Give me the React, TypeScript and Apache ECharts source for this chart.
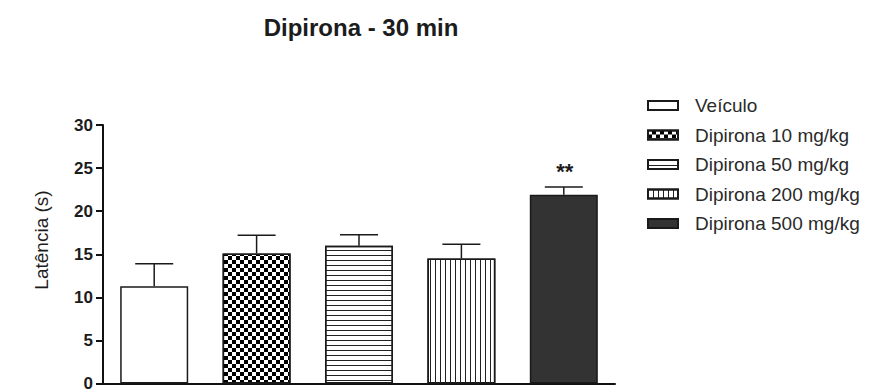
import React, { useEffect, useRef } from "react";
import * as echarts from "echarts";

const groups = ["Veículo", "Dipirona 10 mg/kg", "Dipirona 50 mg/kg", "Dipirona 200 mg/kg", "Dipirona 500 mg/kg"];
const means = [11.3, 15.1, 16.0, 14.5, 21.9];
const sems = [2.6, 2.1, 1.25, 1.65, 0.9];
const significance = ["", "", "", "", "**"];
const yTicks = [0, 5, 10, 15, 20, 25, 30];

const FONT = 'Arial, "Liberation Sans", sans-serif';
const INK = "#1c1c1c";

const fills = ["#ffffff", "#ffffff", "#ffffff", "#ffffff", "#333333"];
const decals: any[] = [
  null,
  {
    symbol: "rect",
    symbolSize: 1,
    symbolKeepAspect: false,
    color: "#000000",
    dashArrayX: [[3.3, 3.3], [0, 3.3, 3.3, 0]],
    dashArrayY: [3.3, 0],
  },
  {
    symbol: "rect",
    symbolSize: 1,
    symbolKeepAspect: false,
    color: "#222222",
    dashArrayX: [10, 0],
    dashArrayY: [1, 3.2],
  },
  {
    symbol: "rect",
    symbolSize: 1,
    symbolKeepAspect: false,
    color: "#222222",
    dashArrayX: [1, 3.3],
    dashArrayY: [10, 0],
  },
  null,
];

export default function App() {
  const ref = useRef<HTMLDivElement>(null);

  useEffect(() => {
    document.body.style.margin = "0";
    const chart = echarts.init(ref.current!, null, { renderer: "svg" });

    const barSeries = groups.map((name, i) => ({
      name,
      type: "bar",
      barWidth: 68,
      barGap: "-100%",
      data: groups.map((_, j) => (j === i ? means[j] : "-")),
      itemStyle: {
        color: fills[i],
        borderColor: "#1a1a1a",
        borderWidth: 1.5,
        ...(decals[i] ? { decal: decals[i] } : {}),
      },
      z: 2,
    }));

    const errorSeries = {
      type: "custom",
      name: "erro",
      z: 5,
      data: means.map((m, i) => [i, m, sems[i]]),
      encode: { x: 0, y: 1 },
      renderItem: (params: any, api: any) => {
        const idx = api.value(0);
        const m = api.value(1);
        const e = api.value(2);
        const sig = significance[idx];
        const base = api.coord([idx, m]);
        const top = api.coord([idx, m + e]);
        const half = 19;
        const lineStyle = { stroke: "#1a1a1a", lineWidth: 1.5 };
        const children: any[] = [
          { type: "line", shape: { x1: base[0], y1: base[1], x2: top[0], y2: top[1] }, style: lineStyle },
          { type: "line", shape: { x1: top[0] - half, y1: top[1], x2: top[0] + half, y2: top[1] }, style: lineStyle },
        ];
        if (sig) {
          children.push({
            type: "text",
            x: top[0] + 1,
            y: top[1] - 27,
            style: {
              text: sig,
              fill: INK,
              font: `bold 22px ${FONT}`,
              align: "center",
              verticalAlign: "top",
            },
          });
        }
        return { type: "group", children };
      },
    };

    chart.setOption({
      animation: false,
      backgroundColor: "#ffffff",
      title: {
        text: "Dipirona - 30 min",
        left: 356,
        top: 10,
        textAlign: "center",
        textStyle: { fontFamily: FONT, fontSize: 24, fontWeight: "bold", color: INK },
      },
      legend: {
        orient: "vertical",
        left: 642,
        top: 91,
        itemWidth: 30,
        itemHeight: 9,
        itemGap: 10.5,
        icon: "rect",
        data: groups,
        textStyle: { fontFamily: FONT, fontSize: 19, color: "#2a2a2a", padding: [0, 0, 0, 12] },
      },
      graphic: [
        {
          type: "text",
          x: 41,
          y: 240,
          rotation: Math.PI / 2,
          style: {
            text: "Latência (s)",
            font: `19px ${FONT}`,
            fill: INK,
            align: "center",
            verticalAlign: "middle",
          },
        },
      ],
      grid: { left: 103, top: 125, width: 512, height: 262 },
      xAxis: {
        type: "category",
        data: groups,
        boundaryGap: true,
        axisLine: { lineStyle: { color: "#111", width: 2 } },
        axisTick: { alignWithLabel: true, length: 6, lineStyle: { color: "#111", width: 2 } },
        axisLabel: { show: false },
        splitLine: { show: false },
      },
      yAxis: {
        type: "value",
        min: yTicks[0],
        max: yTicks[yTicks.length - 1],
        interval: 5,
        axisLine: { show: true, lineStyle: { color: "#111", width: 2 } },
        axisTick: { show: true, length: 7, lineStyle: { color: "#111", width: 2 } },
        axisLabel: { margin: 10, fontFamily: FONT, fontSize: 17, fontWeight: "bold", color: INK },
        splitLine: { show: false },
      },
      series: [...barSeries, errorSeries],
    });

    return () => chart.dispose();
  }, []);

  return <div ref={ref} style={{ width: 874, height: 392 }} />;
}
